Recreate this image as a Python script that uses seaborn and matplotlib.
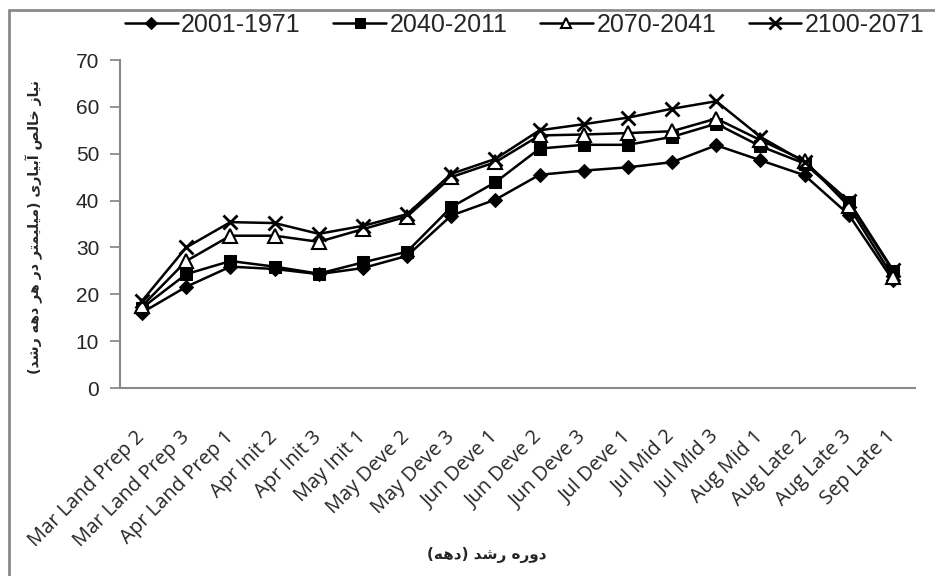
import numpy as np
import pandas as pd
import matplotlib
matplotlib.use("Agg")
import matplotlib.pyplot as plt
from matplotlib.lines import Line2D
import seaborn as sns

categories = ["Mar Land Prep 2", "Mar Land Prep 3", "Apr Land Prep 1", "Apr Init 2",
              "Apr Init 3", "May Init 1", "May Deve 2", "May Deve 3", "Jun Deve 1",
              "Jun Deve 2", "Jun Deve 3", "Jul Deve 1", "Jul Mid 2", "Jul Mid 3",
              "Aug Mid 1", "Aug Late 2", "Aug Late 3", "Sep Late 1"]
s1971 = [16.1, 21.6, 25.9, 25.4, 24.3, 25.6, 28.2, 36.8, 40.2, 45.5, 46.4, 47.1, 48.2, 51.8, 48.6, 45.4, 37.0, 23.0]
s2011 = [17.1, 24.3, 27.1, 25.9, 24.4, 26.8, 29.1, 38.6, 43.9, 51.1, 51.9, 51.9, 53.6, 56.4, 51.6, 47.9, 39.6, 25.0]
s2041 = [17.5, 27.1, 32.5, 32.5, 31.2, 33.9, 36.6, 45.0, 48.2, 53.9, 54.1, 54.4, 54.8, 57.5, 52.9, 48.5, 38.8, 23.7]
s2071 = [18.6, 30.0, 35.4, 35.2, 32.9, 34.6, 37.1, 45.7, 48.9, 55.0, 56.3, 57.7, 59.6, 61.2, 53.6, 48.2, 39.9, 25.2]
series_names = ["2001-1971", "2040-2011", "2070-2041", "2100-2071"]
y_ticks = [0, 10, 20, 30, 40, 50, 60, 70]

xlabel_fa = "دوره رشد (دهه)"
ylabel_fa = "نیاز خالص آبیاری (میلیمتر در هر دهه رشد)"

# matplotlib does no arabic shaping, so map letters to presentation forms and reverse
FORMS = {
    'ا': ('\uFE8D', '\uFE8E', None, None),
    'آ': ('\uFE81', '\uFE82', None, None),
    'ب': ('\uFE8F', '\uFE90', '\uFE91', '\uFE92'),
    'ت': ('\uFE95', '\uFE96', '\uFE97', '\uFE98'),
    'خ': ('\uFEA5', '\uFEA6', '\uFEA7', '\uFEA8'),
    'د': ('\uFEA9', '\uFEAA', None, None),
    'ر': ('\uFEAD', '\uFEAE', None, None),
    'ز': ('\uFEAF', '\uFEB0', None, None),
    'ش': ('\uFEB5', '\uFEB6', '\uFEB7', '\uFEB8'),
    'ص': ('\uFEB9', '\uFEBA', '\uFEBB', '\uFEBC'),
    'ل': ('\uFEDD', '\uFEDE', '\uFEDF', '\uFEE0'),
    'م': ('\uFEE1', '\uFEE2', '\uFEE3', '\uFEE4'),
    'ن': ('\uFEE5', '\uFEE6', '\uFEE7', '\uFEE8'),
    'ه': ('\uFEE9', '\uFEEA', '\uFEEB', '\uFEEC'),
    'و': ('\uFEED', '\uFEEE', None, None),
    'ی': ('\uFEEF', '\uFEF0', '\uFEF3', '\uFEF4'),
}

def shape(text):
    out = []
    for i, ch in enumerate(text):
        f = FORMS.get(ch)
        if f is None:
            out.append(ch)
            continue
        prev = text[i - 1] if i > 0 else ''
        nxt = text[i + 1] if i + 1 < len(text) else ''
        jp = prev in FORMS and FORMS[prev][2] is not None
        jn = f[2] is not None and nxt in FORMS
        if jp and jn:
            out.append(f[3])
        elif jp:
            out.append(f[1])
        elif jn:
            out.append(f[2])
        else:
            out.append(f[0])
    return ''.join(reversed(out)).translate(str.maketrans('()', ')('))

df = pd.DataFrame({"cat": categories * 4,
                   "val": s1971 + s2011 + s2041 + s2071,
                   "period": np.repeat(series_names, len(categories))})

sns.set_style("white")
plt.rcParams['font.family'] = ['Liberation Sans', 'DejaVu Sans']

fig = plt.figure(figsize=(9.35, 5.76), dpi=100)
ax = fig.add_axes([120 / 935, 1 - 388 / 576, 795 / 935, 328 / 576])

styles = {
    "2001-1971": dict(marker="D", markersize=7.5, markerfacecolor="black", markeredgecolor="black"),
    "2040-2011": dict(marker="s", markersize=8.5, markerfacecolor="black", markeredgecolor="black"),
    "2070-2041": dict(marker="^", markersize=9.5, markerfacecolor="white", markeredgecolor="black", markeredgewidth=1.5),
    "2100-2071": dict(marker="x", markersize=10, markeredgecolor="black", markeredgewidth=2),
}
for name in series_names:
    sub = df[df["period"] == name]
    sns.lineplot(data=sub, x="cat", y="val", color="black", linewidth=1.8,
                 label=name, sort=False, ax=ax, **styles[name])

gray = "#8a8a8a"
ax.set_xlim(-0.5, len(categories) - 0.5)
ax.set_ylim(0, 70)
ax.set_yticks(y_ticks)
ax.set_yticklabels([str(v) for v in y_ticks], fontsize=15)
ax.set_xticks(range(len(categories)))
ax.set_xticklabels(categories, rotation=45, ha="right", va="center",
                   rotation_mode="anchor", fontsize=14.5, family=["Open Sans", "DejaVu Sans"])
ax.set_xticks(np.arange(-0.5, len(categories)), minor=True)
ax.tick_params(axis="x", which="major", length=0, pad=33)
ax.tick_params(axis="x", which="minor", length=6, color=gray, width=1.3, direction="out")
ax.tick_params(axis="y", length=7, color=gray, width=1.3, direction="out", pad=8, left=True)
for side in ["top", "right"]:
    ax.spines[side].set_visible(False)
for side in ["left", "bottom"]:
    ax.spines[side].set_color(gray)
    ax.spines[side].set_linewidth(1.5)

ax.set_xlabel(shape(xlabel_fa), fontsize=11, fontweight="bold", family="DejaVu Sans")
ax.xaxis.label.set_va("center")
ax.xaxis.set_label_coords((487 - 120) / 795, (388 - 555) / 328)
ax.set_ylabel(shape(ylabel_fa), fontsize=10.2, fontweight="bold", family="DejaVu Sans")
ax.yaxis.label.set_va("center")
ax.yaxis.set_label_coords((34 - 120) / 795, 0.49)

handles, labels = ax.get_legend_handles_labels()
ax.get_legend().remove()
fig.legend(handles, labels, ncol=4, loc="center left", bbox_to_anchor=(125 / 935, 1 - 25 / 576),
           frameon=False, fontsize=18, handlelength=2.1, handletextpad=0.15, columnspacing=1.3,
           borderpad=0, borderaxespad=0, markerscale=0.8)

# chart area border (only top and left are visible in the crop)
fig.add_artist(Line2D([9 / 935, 9 / 935], [0, 1 - 10 / 576], transform=fig.transFigure, color=gray, lw=2))
fig.add_artist(Line2D([9 / 935, 1], [1 - 10 / 576, 1 - 10 / 576], transform=fig.transFigure, color=gray, lw=2))

fig.savefig("out.png", dpi=100)
